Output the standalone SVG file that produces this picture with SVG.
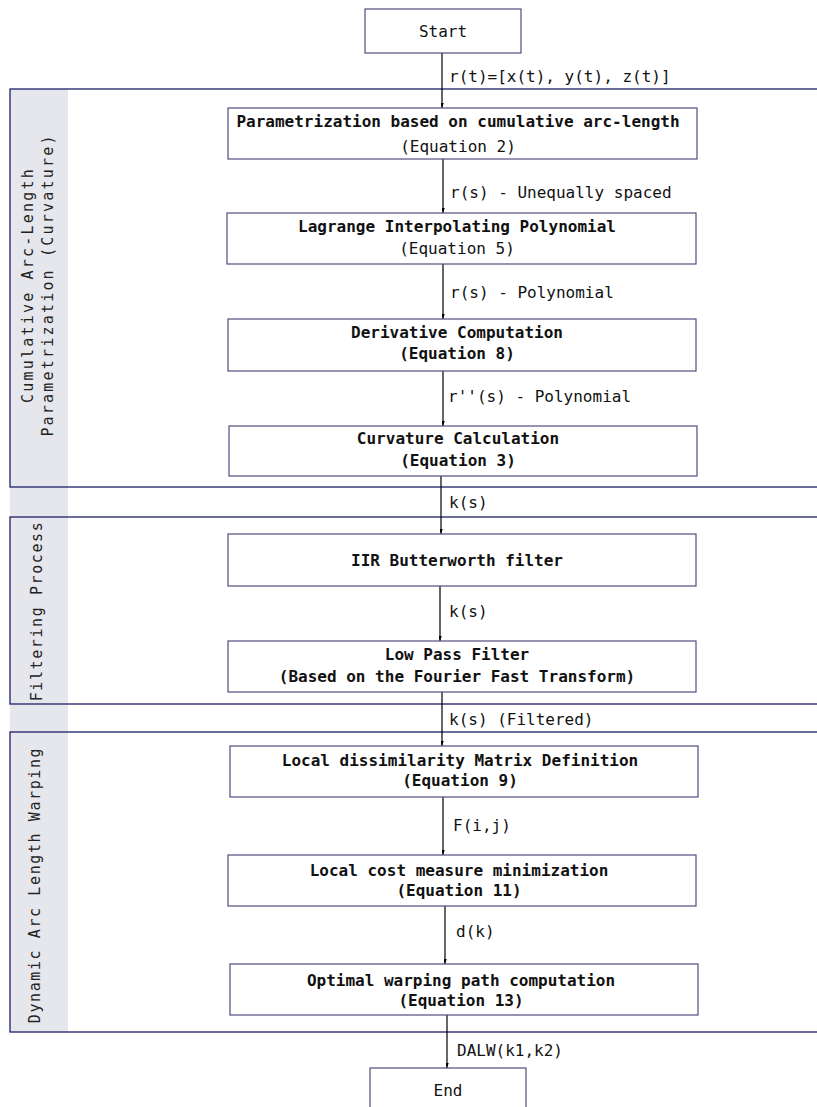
<svg xmlns="http://www.w3.org/2000/svg" width="817" height="1107" viewBox="0 0 817 1107">
<style>
.lane{fill:none;stroke:#1f1f66;stroke-width:1.3}
.band{fill:#e6e6ed}
.node{fill:#fff;stroke:#4f4f80;stroke-width:1.2}
.t{font-family:"DejaVu Sans Mono","Liberation Mono",monospace;font-size:16px;fill:#111;text-anchor:middle}
.b{font-weight:bold}
.el{font-family:"DejaVu Sans Mono","Liberation Mono",monospace;font-size:16px;fill:#111}
.ll{font-family:"DejaVu Sans Mono","Liberation Mono",monospace;font-size:15px;fill:#222;text-anchor:middle;letter-spacing:1.6px}
.l1{letter-spacing:2.2px}
.c{stroke:#000;stroke-width:1.2;fill:none}
</style>
<defs>
<marker id="ah" markerWidth="10" markerHeight="12" viewBox="-5 -11 10 12" refX="0" refY="0" orient="auto" markerUnits="userSpaceOnUse">
<path d="M0,0 L-3.5,-10 L0,-7.5 L3.5,-10 Z" fill="#000" transform="rotate(-90)"/>
</marker>
</defs>
<rect width="817" height="1107" fill="#fff"/>
<g id="lanes">
<rect class="band" x="10" y="89" width="58" height="943"/>
<g id="lane1"><rect class="lane" x="10" y="89" width="820" height="398"/>
<text class="ll l1" transform="translate(33,285) rotate(-90)">Cumulative Arc-Length</text>
<text class="ll l1" transform="translate(53,285) rotate(-90)">Parametrization (Curvature)</text></g>
<g id="lane2"><rect class="lane" x="10" y="517" width="820" height="187"/>
<text class="ll" transform="translate(42,611) rotate(-90)">Filtering Process</text></g>
<g id="lane3"><rect class="lane" x="10" y="732" width="820" height="300"/>
<text class="ll" transform="translate(40,885) rotate(-90)">Dynamic Arc Length Warping</text></g>
</g>
<g id="connectors">
<line class="c" x1="442" y1="53" x2="442" y2="108" marker-end="url(#ah)"/>
<text class="el" x="449" y="82">r(t)=[x(t), y(t), z(t)]</text>
<line class="c" x1="443" y1="159" x2="443" y2="213" marker-end="url(#ah)"/>
<text class="el" x="450" y="198">r(s) - Unequally spaced</text>
<line class="c" x1="443" y1="264" x2="443" y2="319" marker-end="url(#ah)"/>
<text class="el" x="450" y="298">r(s) - Polynomial</text>
<line class="c" x1="443" y1="371" x2="443" y2="426" marker-end="url(#ah)"/>
<text class="el" x="448" y="402">r''(s) - Polynomial</text>
<line class="c" x1="441" y1="476" x2="441" y2="534" marker-end="url(#ah)"/>
<text class="el" x="449" y="508">k(s)</text>
<line class="c" x1="440" y1="586" x2="440" y2="641" marker-end="url(#ah)"/>
<text class="el" x="449" y="617">k(s)</text>
<line class="c" x1="442" y1="692" x2="442" y2="746" marker-end="url(#ah)"/>
<text class="el" x="449" y="725">k(s) (Filtered)</text>
<line class="c" x1="443" y1="797" x2="443" y2="855" marker-end="url(#ah)"/>
<text class="el" x="453" y="831">F(i,j)</text>
<line class="c" x1="445" y1="906" x2="445" y2="964" marker-end="url(#ah)"/>
<text class="el" x="456" y="937">d(k)</text>
<line class="c" x1="447" y1="1015" x2="447" y2="1068" marker-end="url(#ah)"/>
<text class="el" x="457" y="1056">DALW(k1,k2)</text>
</g>
<g id="start"><rect class="node" x="365" y="9" width="156" height="44"/>
<text class="t" x="443" y="37">Start</text></g>
<g id="param"><rect class="node" x="228" y="108" width="469" height="51"/>
<text class="t b" x="458" y="127">Parametrization based on cumulative arc-length</text>
<text class="t" x="458" y="152">(Equation 2)</text></g>
<g id="lagrange"><rect class="node" x="227" y="213" width="469" height="51"/>
<text class="t b" x="457" y="232">Lagrange Interpolating Polynomial</text>
<text class="t" x="457" y="254">(Equation 5)</text></g>
<g id="derivative"><rect class="node" x="228" y="319" width="468" height="52"/>
<text class="t b" x="457" y="338">Derivative Computation</text>
<text class="t b" x="457" y="359">(Equation 8)</text></g>
<g id="curvature"><rect class="node" x="229" y="426" width="468" height="50"/>
<text class="t b" x="458" y="444">Curvature Calculation</text>
<text class="t b" x="458" y="466">(Equation 3)</text></g>
<g id="iir"><rect class="node" x="228" y="534" width="468" height="52"/>
<text class="t b" x="457" y="566">IIR Butterworth filter</text></g>
<g id="lowpass"><rect class="node" x="228" y="641" width="468" height="51"/>
<text class="t b" x="457" y="660">Low Pass Filter</text>
<text class="t b" x="457" y="682">(Based on the Fourier Fast Transform)</text></g>
<g id="dissim"><rect class="node" x="230" y="746" width="468" height="51"/>
<text class="t b" x="460" y="766">Local dissimilarity Matrix Definition</text>
<text class="t b" x="460" y="786">(Equation 9)</text></g>
<g id="cost"><rect class="node" x="228" y="855" width="468" height="51"/>
<text class="t b" x="459" y="876">Local cost measure minimization</text>
<text class="t b" x="459" y="896">(Equation 11)</text></g>
<g id="optimal"><rect class="node" x="230" y="964" width="468" height="51"/>
<text class="t b" x="461" y="986">Optimal warping path computation</text>
<text class="t b" x="461" y="1006">(Equation 13)</text></g>
<g id="end"><rect class="node" x="370" y="1068" width="156" height="50"/>
<text class="t" x="448" y="1096">End</text></g>
</svg>
